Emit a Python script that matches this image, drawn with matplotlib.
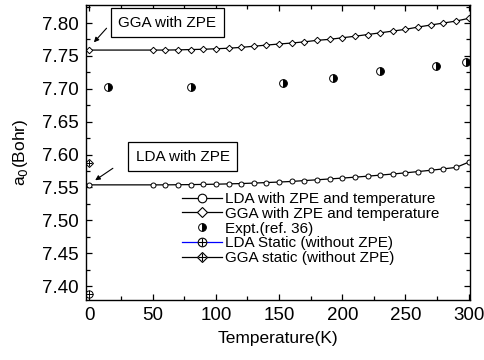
import matplotlib
matplotlib.use('Agg')
import matplotlib.pyplot as plt
from matplotlib.lines import Line2D
from matplotlib.legend_handler import HandlerTuple
from matplotlib.ticker import MultipleLocator, FormatStrFormatter

plt.rcParams['font.family'] = ['Liberation Sans', 'DejaVu Sans']

# temperature grid of the quasi-harmonic runs (K)
temps = [0, 50, 60, 70, 80, 90, 100, 110, 120, 130, 140, 150, 160, 170,
         180, 190, 200, 210, 220, 230, 240, 250, 260, 270, 280, 290, 300]

# lattice constant a0 (Bohr) with ZPE and temperature
lda_zpe_t = [7.5540, 7.5540, 7.5540, 7.5542, 7.5544, 7.5547, 7.5550, 7.5555,
             7.5560, 7.5567, 7.5575, 7.5583, 7.5592, 7.5605, 7.5617, 7.5630,
             7.5643, 7.5657, 7.5672, 7.5688, 7.5705, 7.5723, 7.5742, 7.5762,
             7.5783, 7.5805, 7.5885]
gga_zpe_t = [7.7589, 7.7589, 7.7589, 7.7592, 7.7597, 7.7601, 7.7609, 7.7617,
             7.7630, 7.7647, 7.7665, 7.7681, 7.7696, 7.7714, 7.7737, 7.7752,
             7.7776, 7.7799, 7.7825, 7.7851, 7.7878, 7.7904, 7.7939, 7.7970,
             7.8000, 7.8030, 7.8071]

# experiment (ref. 36)
exp_t = [15, 80, 153, 193, 230, 274, 298]
exp_a = [7.702, 7.702, 7.709, 7.717, 7.727, 7.735, 7.741]

# static lattice, no zero point energy
static_t = [0]
lda_static = [7.388]
gga_static = [7.587]

fig = plt.figure(figsize=(4.85, 3.6), dpi=100)
ax = fig.add_axes([0.1767, 0.1667, 0.7915, 0.8194])

ms = 3.6
ax.plot(temps, lda_zpe_t, '-', color='black', lw=0.9, marker='o', ms=ms,
        mfc='white', mec='black', mew=0.7)
ax.plot(temps, gga_zpe_t, '-', color='black', lw=0.9, marker='D', ms=ms - 0.3,
        mfc='white', mec='black', mew=0.7)
ax.plot(exp_t, exp_a, ls='none', marker='o', ms=5.6, fillstyle='right',
        mfc='black', mfcalt='white', mec='black', mew=0.7)
ax.plot(static_t, lda_static, ls='none', marker='o', ms=5.2,
        mfc='white', mec='black', mew=0.7)
ax.plot(static_t, lda_static, ls='none', marker='+', ms=5.2,
        color='black', mew=0.7)
ax.plot(static_t, gga_static, ls='none', marker='D', ms=4.0,
        mfc='white', mec='black', mew=0.7)
ax.plot(static_t, gga_static, ls='none', marker='+', ms=5.0,
        color='black', mew=0.7)

ax.set_xlim(-3, 300.7)
ax.set_ylim(7.379, 7.8274)
ax.xaxis.set_major_locator(MultipleLocator(50))
ax.xaxis.set_minor_locator(MultipleLocator(25))
ax.yaxis.set_major_locator(MultipleLocator(0.05))
ax.yaxis.set_minor_locator(MultipleLocator(0.025))
ax.yaxis.set_major_formatter(FormatStrFormatter('%.2f'))
ax.tick_params(which='both', direction='in', top=True, right=True,
               labelsize=13.5, width=0.9)
ax.tick_params(which='major', length=4.3, pad=5)
ax.tick_params(which='minor', length=2.6)
for s in ax.spines.values():
    s.set_linewidth(1.0)

ax.set_xlabel('Temperature(K)', fontsize=12.5, labelpad=5)
ax.set_ylabel(r'a$_0$(Bohr)', fontsize=12.5, labelpad=9)

# callouts for the zero-point corrected values
box = dict(boxstyle='square,pad=0.5', fc='white', ec='black', lw=0.9)
ax.text(61.5, 7.8003, 'GGA with ZPE', fontsize=11, ha='center', va='center',
        bbox=box)
ax.annotate('', xy=(3.5, 7.7707), xytext=(13.5, 7.7921),
            arrowprops=dict(arrowstyle='-|>', lw=0.8, color='black',
                            mutation_scale=7, shrinkA=0, shrinkB=0))
ax.text(73.7, 7.597, 'LDA with ZPE', fontsize=11, ha='center', va='center',
        bbox=box)
ax.annotate('', xy=(4.5, 7.5610), xytext=(18.5, 7.5792),
            arrowprops=dict(arrowstyle='-|>', lw=0.8, color='black',
                            mutation_scale=7, shrinkA=0, shrinkB=0))

lm = 6.2
h_lda = Line2D([], [], color='black', lw=0.9, marker='o', ms=lm,
               mfc='white', mec='black', mew=0.8)
h_gga = Line2D([], [], color='black', lw=0.9, marker='D', ms=lm - 0.8,
               mfc='white', mec='black', mew=0.8)
h_exp = Line2D([], [], ls='none', marker='o', ms=5.6, fillstyle='right',
               mfc='black', mfcalt='white', mec='black', mew=0.7)
h_lda_s = (Line2D([], [], color='blue', lw=0.9, marker='o', ms=lm,
                  mfc='white', mec='black', mew=0.8),
           Line2D([], [], ls='none', marker='+', ms=lm, color='black', mew=0.8))
h_gga_s = (Line2D([], [], color='black', lw=0.9, marker='D', ms=lm - 0.8,
                  mfc='white', mec='black', mew=0.8),
           Line2D([], [], ls='none', marker='+', ms=lm, color='black', mew=0.8))

ax.legend([h_lda, h_gga, h_exp, h_lda_s, h_gga_s],
          ['LDA with ZPE and temperature', 'GGA with ZPE and temperature',
           'Expt.(ref. 36)', 'LDA Static (without ZPE)',
           'GGA static (without ZPE)'],
          handler_map={tuple: HandlerTuple(ndivide=1)},
          loc='upper left', bbox_to_anchor=(0.251, 0.366), frameon=False,
          fontsize=11, handlelength=2.6, handletextpad=0.2, labelspacing=0.05,
          borderpad=0, borderaxespad=0)

fig.savefig('out.png', dpi=100)
